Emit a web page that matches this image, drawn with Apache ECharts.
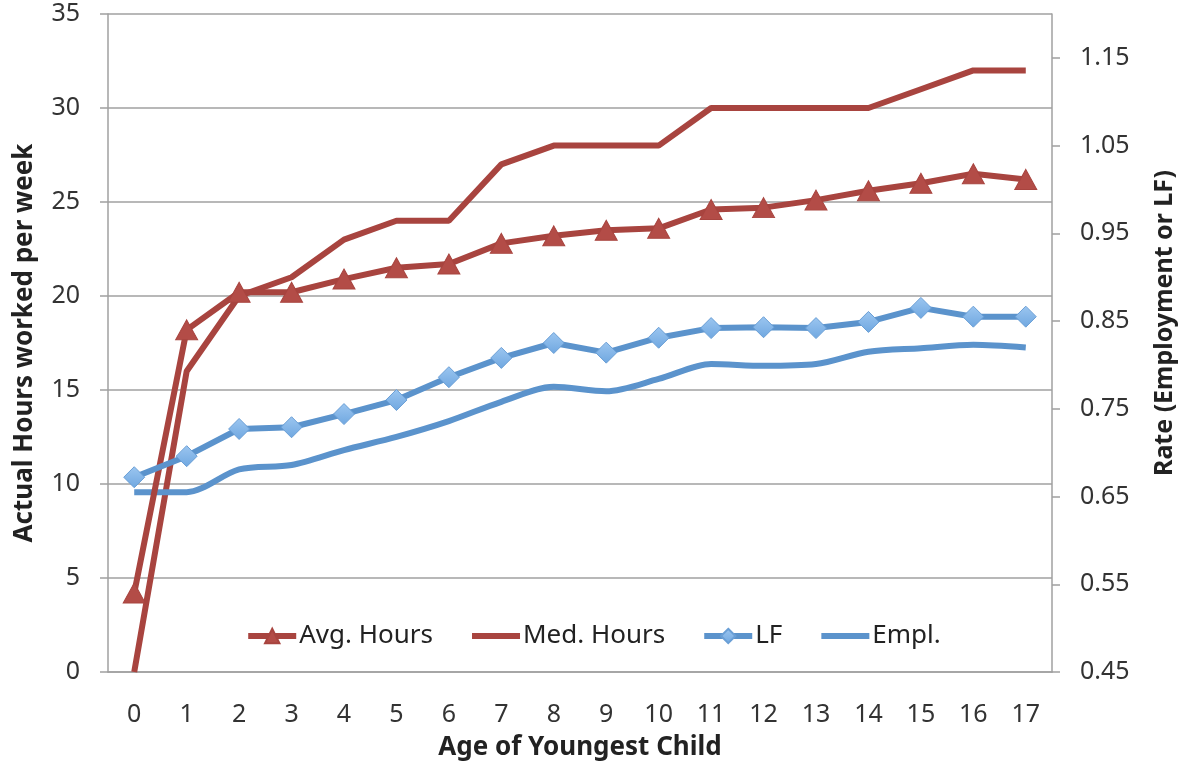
<!DOCTYPE html>
<html>
<head>
<meta charset="utf-8">
<script src="https://cdn.jsdelivr.net/npm/echarts@6/dist/echarts.min.js"></script>
<style>
  html, body { margin: 0; padding: 0; background: #fff; }
  #main { width: 1186px; height: 769px; }
</style>
</head>
<body>
<div id="main"></div>
<script>
// data
const ages = ['0', '1', '2', '3', '4', '5', '6', '7', '8', '9', '10', '11', '12', '13', '14', '15', '16', '17']
const avgHours = [4.2, 18.2, 20.2, 20.2, 20.9, 21.5, 21.7, 22.8, 23.2, 23.5, 23.6, 24.6, 24.7, 25.1, 25.6, 26.0, 26.5, 26.2]
const medHours = [0, 16, 20, 21, 23, 24, 24, 27, 28, 28, 28, 30, 30, 30, 30, 31, 32, 32]
const lfRate = [0.672, 0.696, 0.727, 0.729, 0.744, 0.760, 0.786, 0.808, 0.825, 0.814, 0.831, 0.842, 0.843, 0.842, 0.849, 0.865, 0.855, 0.855]
const emplRate = [0.655, 0.655, 0.681, 0.686, 0.703, 0.718, 0.736, 0.758, 0.775, 0.770, 0.784, 0.801, 0.799, 0.801, 0.815, 0.819, 0.823, 0.820]
const rateTicks = [0.45, 0.55, 0.65, 0.75, 0.85, 0.95, 1.05, 1.15]

const red = '#A8443F'
const blue = '#5B93CC'
const axisGray = '#A0A0A0'
const font = 'Noto Sans'

var myChart = echarts.init(document.getElementById('main'))
var option = {
  backgroundColor: '#fff',
  textStyle: { fontFamily: font },
  grid: { left: 108, right: 134, top: 14, bottom: 97 },
  legend: {
    left: 'center',
    top: 618,
    itemWidth: 48,
    itemHeight: 18,
    itemGap: 36,
    textStyle: { fontFamily: font, fontSize: 26, color: '#222', padding: [0, 0, 0, -2] },
    lineStyle: { width: 6 },
    data: [
      { name: 'Avg. Hours' },
      { name: 'Med. Hours', itemStyle: { opacity: 0 } },
      { name: 'LF' },
      { name: 'Empl.', itemStyle: { opacity: 0 } }
    ]
  },
  xAxis: {
    type: 'category',
    data: ages,
    boundaryGap: true,
    name: 'Age of Youngest Child',
    nameLocation: 'middle',
    nameGap: 63,
    nameTextStyle: { fontFamily: font, fontSize: 26, fontWeight: 'bold', color: '#222' },
    axisLine: { lineStyle: { color: axisGray, width: 1.5 } },
    axisTick: { length: 8, lineStyle: { color: axisGray, width: 1.5 } },
    axisLabel: { margin: 30, fontSize: 25, color: '#333' }
  },
  yAxis: [
    {
      type: 'value',
      min: 0,
      max: 35,
      interval: 5,
      name: 'Actual Hours worked per week',
      nameLocation: 'middle',
      nameGap: 70,
      nameRotate: 90,
      nameTextStyle: { fontFamily: font, fontSize: 26, fontWeight: 'bold', color: '#222' },
      axisLine: { show: true, lineStyle: { color: axisGray, width: 1.5 } },
      axisTick: { show: true, length: 8, lineStyle: { color: axisGray, width: 1.5 } },
      axisLabel: { margin: 28, fontSize: 25, color: '#333' },
      splitLine: { show: true, lineStyle: { color: axisGray, width: 1.5 } }
    },
    {
      type: 'value',
      position: 'right',
      min: 0.45,
      max: 1.2,
      name: 'Rate (Employment or LF)',
      nameLocation: 'middle',
      nameGap: 100,
      nameRotate: 90,
      nameTextStyle: { fontFamily: font, fontSize: 25, fontWeight: 'bold', color: '#222', padding: [0, 0, 0, 40] },
      axisLine: { show: true, lineStyle: { color: axisGray, width: 1.5 } },
      axisTick: { show: true, length: 8, customValues: rateTicks, lineStyle: { color: axisGray, width: 1.5 } },
      axisLabel: {
        margin: 28,
        fontSize: 25,
        color: '#333',
        customValues: rateTicks,
        formatter: function (v) { return v.toFixed(2) }
      },
      splitLine: { show: false }
    }
  ],
  series: [
    {
      name: 'Med. Hours',
      type: 'line',
      yAxisIndex: 0,
      data: medHours,
      showSymbol: false,
      symbol: 'none',
      lineStyle: { color: red, width: 6 },
      itemStyle: { color: red },
      z: 2
    },
    {
      name: 'Avg. Hours',
      type: 'line',
      yAxisIndex: 0,
      data: avgHours,
      symbol: 'triangle',
      symbolSize: [22, 20],
      lineStyle: { color: red, width: 6 },
      itemStyle: { color: '#B34C47', borderColor: '#A8443F', borderWidth: 1 },
      z: 3
    },
    {
      name: 'LF',
      type: 'line',
      yAxisIndex: 1,
      data: lfRate,
      symbol: 'diamond',
      symbolSize: [21, 21],
      lineStyle: { color: blue, width: 6 },
      itemStyle: {
        color: new echarts.graphic.LinearGradient(0, 0, 0, 1, [
          { offset: 0, color: '#9CC6F0' },
          { offset: 1, color: '#6FA7E0' }
        ]),
        borderColor: '#6A9FD6',
        borderWidth: 1
      },
      z: 3
    },
    {
      name: 'Empl.',
      type: 'line',
      yAxisIndex: 1,
      data: emplRate,
      smooth: 0.3,
      showSymbol: false,
      symbol: 'none',
      lineStyle: { color: blue, width: 6 },
      itemStyle: { color: blue },
      z: 2
    }
  ]
}
option && myChart.setOption(option)
</script>
</body>
</html>
